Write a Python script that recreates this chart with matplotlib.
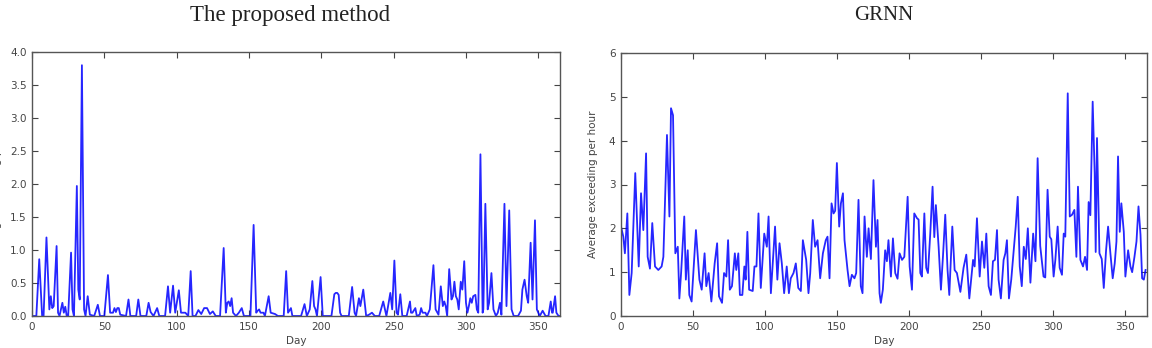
import numpy as np
import matplotlib.pyplot as plt

# values (day, average exceeding per hour)
prop_day = [0, 3, 5, 7, 8, 10, 12, 13, 14, 15, 17, 18, 19, 21, 22, 23, 24, 25, 27, 28,
            29, 31, 32, 33, 34.5, 36, 37, 38.5, 40, 43, 45.5, 47, 50, 52.5, 54, 56, 57, 58, 59, 60,
            61, 65, 66.7, 68, 72, 73.5, 75, 79, 80.6, 82, 84, 86.5, 88, 92, 94, 95.5, 97.5, 99, 101.5, 103,
            106, 108, 109.7, 111, 113, 115, 117, 119, 121, 123, 125, 127, 130, 132.5, 134, 135, 136, 137, 138, 139,
            141, 143, 145, 146.5, 151, 153.2, 155, 156, 157, 158, 160, 161, 163.6, 165, 168, 170, 174, 175.7, 177, 179,
            180, 186, 188.4, 190, 192, 193.8, 195, 196, 197, 199.5, 201, 207, 209, 210, 211, 212, 213, 214, 219, 221.3,
            223, 224, 226, 227, 229, 231, 233, 235, 237, 240, 242.8, 244, 245, 247.7, 249, 250.5, 252, 253, 254.6, 256,
            259, 261.3, 262, 263, 265, 266, 268, 269, 270, 272, 273, 275, 277.5, 279, 281, 282.6, 284, 285, 286, 287,
            288.4, 290, 291, 292, 293, 294, 295, 296.4, 297.5, 298.8, 300, 301, 302, 303, 304, 305, 306.5, 307.5, 308.5, 310,
            311.5, 312, 313.4, 315, 316, 317.6, 319, 320.7, 322, 323.5, 324.5, 326.6, 328, 329.9, 331.5, 333, 336, 338, 339, 340.5,
            342, 343, 344.7, 346, 347.7, 349, 351, 353, 355, 357, 358.6, 359.5, 360, 361.6, 362.5, 364, 365]
prop_val = [0, 0, 0.86, 0, 0, 1.19, 0.1, 0.3, 0.12, 0.15, 1.06, 0.05, 0, 0.2, 0.05, 0.14, 0, 0, 0.96, 0.1,
            0, 1.97, 0.4, 0.25, 3.8, 0.1, 0, 0.3, 0.02, 0, 0.17, 0, 0, 0.62, 0.05, 0.05, 0.12, 0.06, 0.12, 0.12,
            0.02, 0, 0.25, 0, 0, 0.25, 0, 0, 0.2, 0.06, 0, 0.12, 0, 0, 0.45, 0.05, 0.46, 0.05, 0.39, 0.05,
            0.05, 0, 0.68, 0, 0, 0.09, 0.03, 0.12, 0.12, 0.03, 0.07, 0, 0, 1.03, 0.05, 0.2, 0.22, 0.15, 0.27, 0.05,
            0, 0.05, 0.12, 0, 0, 1.38, 0.05, 0.08, 0.1, 0.05, 0.05, 0, 0.3, 0.05, 0.03, 0, 0, 0.68, 0.05, 0.12,
            0, 0, 0.18, 0, 0.1, 0.53, 0.15, 0.1, 0, 0.59, 0, 0, 0.33, 0.35, 0.35, 0.32, 0.05, 0, 0, 0.44,
            0.05, 0, 0.27, 0.15, 0.4, 0, 0.02, 0.05, 0, 0, 0.22, 0.1, 0, 0.35, 0.1, 0.84, 0.05, 0.02, 0.33, 0,
            0, 0.22, 0.05, 0.05, 0.12, 0, 0.02, 0.12, 0.05, 0.05, 0, 0.1, 0.77, 0.1, 0.02, 0.45, 0.15, 0.22, 0.15, 0,
            0.71, 0.25, 0.3, 0.52, 0.3, 0.25, 0.1, 0.52, 0.4, 0.83, 0.2, 0.05, 0.15, 0.27, 0.2, 0.3, 0.32, 0.1, 0.05, 2.45,
            0.05, 0.1, 1.70, 0.1, 0.2, 0.65, 0.1, 0, 0.05, 0.2, 0.02, 1.70, 0.15, 1.6, 0.1, 0, 0, 0.08, 0.4, 0.55,
            0.3, 0.2, 1.11, 0.25, 1.45, 0.1, 0, 0.08, 0, 0, 0.22, 0.05, 0.05, 0.3, 0.05, 0, 0]

grnn_day = [0, 1.6, 2.7, 4.4, 5.8, 7.4, 9.9, 12.3, 13.9, 15.5, 17.4, 18.5, 20.1, 21.7, 23.6, 25.9, 28.2, 29.4, 31.9, 33.6,
            34.7, 36.1, 37.7, 39.4, 40.5, 41.7, 43.9, 45, 46.3, 47.4, 49, 50.5, 52, 54.4, 56, 58, 59.2, 60.8, 62.7, 65,
            66.7, 68, 70.1, 71.5, 73.1, 74.3, 75.5, 77, 79, 80, 81.4, 82.5, 84.2, 85.6, 86.5, 87.7, 88.9, 91.4, 92.6, 94,
            95.4, 97, 99.4, 101.2, 102.4, 104, 106.9, 108.5, 110, 111.6, 113.2, 115, 116.5, 117.8, 119.7, 121.3, 123, 124.8, 126.2, 128.5,
            130.1, 131.3, 133.1, 134.7, 136.4, 138.2, 140.1, 142.1, 143.3, 144.7, 146.1, 147.5, 148.6, 149.8, 151.4, 152.6, 154, 155.1, 157.2, 158.6,
            160.2, 162, 163.2, 164.8, 166.4, 167.6, 169, 170.6, 171.8, 173.4, 175.2, 176.9, 178, 179.4, 180.3, 181.7, 183.3, 184.5, 185.6, 187.3,
            188.7, 190.3, 191.9, 193.3, 195, 196.6, 198.9, 200.3, 201.9, 203.5, 205.4, 206.5, 207.7, 208.8, 210.5, 211.8, 213, 214.6, 216.2, 217.4,
            218.5, 220.4, 222, 223.4, 225, 226.6, 227.8, 229.9, 231.5, 233.1, 235.5, 237.7, 239.6, 241.7, 244.3, 245.4, 247, 248.9, 250.5, 252.1,
            253.5, 255.1, 256.7, 258.1, 259.5, 260.9, 262, 263.6, 265.5, 266.7, 267.8, 269.2, 270.8, 272.5, 273.9, 275.3, 276.7, 278.1, 279.5, 280.9,
            282.3, 284.1, 286, 287.6, 289.1, 290.9, 293.2, 294.4, 296, 297.5, 298.6, 300.2, 301.4, 303, 304.4, 306, 307.2, 308.3, 310, 311.4,
            313, 314.6, 316, 317.1, 318.8, 320.6, 322, 323.4, 324.5, 325.7, 327.3, 328.7, 329.4, 330.3, 332, 333.6, 335, 336.6, 338, 339.6,
            341.2, 342.6, 343.8, 344.9, 346.1, 347.2, 348.9, 350, 351.9, 353.5, 354.7, 356.3, 357.7, 359.1, 360.5, 361.6, 362.8, 364]
grnn_val = [2.04, 1.81, 1.43, 2.34, 0.48, 0.98, 3.26, 1.13, 2.8, 1.96, 3.71, 1.35, 1.08, 2.12, 1.13, 1.05, 1.13, 1.35, 4.13, 2.27,
            4.74, 4.58, 1.43, 1.58, 0.4, 0.98, 2.27, 0.83, 1.5, 0.48, 0.33, 1.13, 1.96, 0.83, 0.6, 1.43, 0.68, 0.98, 0.33, 1.2,
            1.66, 0.45, 0.3, 0.98, 0.9, 1.73, 0.6, 0.68, 1.43, 1.05, 1.43, 0.48, 0.48, 1.13, 0.83, 1.92, 0.6, 0.57, 1.13, 1.13,
            2.34, 0.64, 1.88, 1.58, 2.27, 0.52, 2.04, 0.83, 1.66, 1.2, 0.52, 1.13, 0.52, 0.86, 0.98, 1.2, 0.64, 0.57, 1.73, 1.28,
            0.52, 0.98, 2.19, 1.58, 1.73, 0.86, 1.43, 1.73, 1.81, 0.86, 2.57, 2.34, 2.4, 3.49, 2.04, 2.57, 2.8, 1.73, 1.05, 0.68,
            0.94, 0.86, 0.98, 2.65, 0.68, 0.52, 2.27, 1.35, 2.0, 1.3, 3.1, 1.58, 2.19, 0.52, 0.3, 0.6, 1.5, 1.25, 1.73, 0.9,
            1.77, 0.98, 0.85, 1.43, 1.28, 1.35, 2.72, 1.13, 0.6, 2.34, 2.23, 2.2, 0.98, 0.9, 2.34, 1.1, 0.98, 1.88, 2.95, 1.8,
            2.53, 1.58, 0.6, 1.35, 2.31, 1.05, 0.48, 2.04, 1.05, 0.98, 0.55, 1.1, 1.4, 0.4, 1.28, 1.13, 2.23, 0.9, 1.7, 1.1,
            1.88, 0.68, 0.48, 1.25, 1.28, 1.96, 0.83, 0.4, 1.28, 1.43, 1.73, 0.4, 0.83, 1.5, 2.04, 2.72, 1.13, 0.68, 1.58, 1.3,
            2.0, 0.76, 1.88, 1.25, 3.6, 1.6, 0.9, 0.88, 2.88, 1.81, 1.75, 0.9, 1.28, 2.04, 1.1, 0.94, 1.88, 1.81, 5.08, 2.27,
            2.31, 2.42, 1.35, 2.95, 1.28, 1.13, 1.35, 1.05, 2.6, 2.3, 4.89, 3.26, 1.46, 4.06, 1.43, 1.3, 0.64, 1.5, 2.04, 1.43,
            0.86, 1.2, 1.7, 3.64, 1.92, 2.57, 1.92, 0.9, 1.5, 1.13, 1.0, 1.35, 1.7, 2.5, 1.85, 0.86, 0.83, 1.05]

prop_yticks = np.arange(0, 4.01, 0.5)
grnn_yticks = np.arange(0, 7, 1)
day_ticks = np.arange(0, 351, 50)

fig = plt.figure(figsize=(11.52, 3.48), dpi=100)
ax1 = fig.add_axes([32/1152, 1-316/348, 528/1152, 264/348])
ax2 = fig.add_axes([621/1152, 1-316/348, 526/1152, 263/348])

tick_col = '#444444'
for ax in (ax1, ax2):
    ax.set_xlim(0, 365)
    ax.set_xticks(day_ticks)
    ax.tick_params(direction='in', length=4, width=0.8, top=True, right=True,
                   labelsize=7.5, colors=tick_col, labelcolor=tick_col, pad=4)
    for s in ax.spines.values():
        s.set_color('#555555')
        s.set_linewidth(1.0)
    ax.set_xlabel('Day', fontsize=7.5, color=tick_col, labelpad=3)
    ax.set_ylabel('Average exceeding per hour', fontsize=7.5, color=tick_col)

# left label sits mostly off the canvas, as in the source figure
ax1.yaxis.set_label_coords(-0.056, 0.5)
ax2.yaxis.set_label_coords(-0.044, 0.5)

ax1.plot(prop_day, prop_val, color='#0000ff', lw=1.3, alpha=0.85)
ax1.set_ylim(0, 4)
ax1.set_yticks(prop_yticks)
ax1.set_yticklabels(['%.1f' % t for t in prop_yticks])

ax2.plot(grnn_day, grnn_val, color='#0000ff', lw=1.3, alpha=0.85)
ax2.set_ylim(0, 6)
ax2.set_yticks(grnn_yticks)

fig.text(290/1152, 1-15/348, 'The proposed method', family='Liberation Serif',
         fontsize=16.5, ha='center', va='center', color='#222222')
fig.text(884/1152, 1-15/348, 'GRNN', family='Liberation Serif',
         fontsize=15, ha='center', va='center', color='#222222')

plt.savefig('out.png', dpi=100)
